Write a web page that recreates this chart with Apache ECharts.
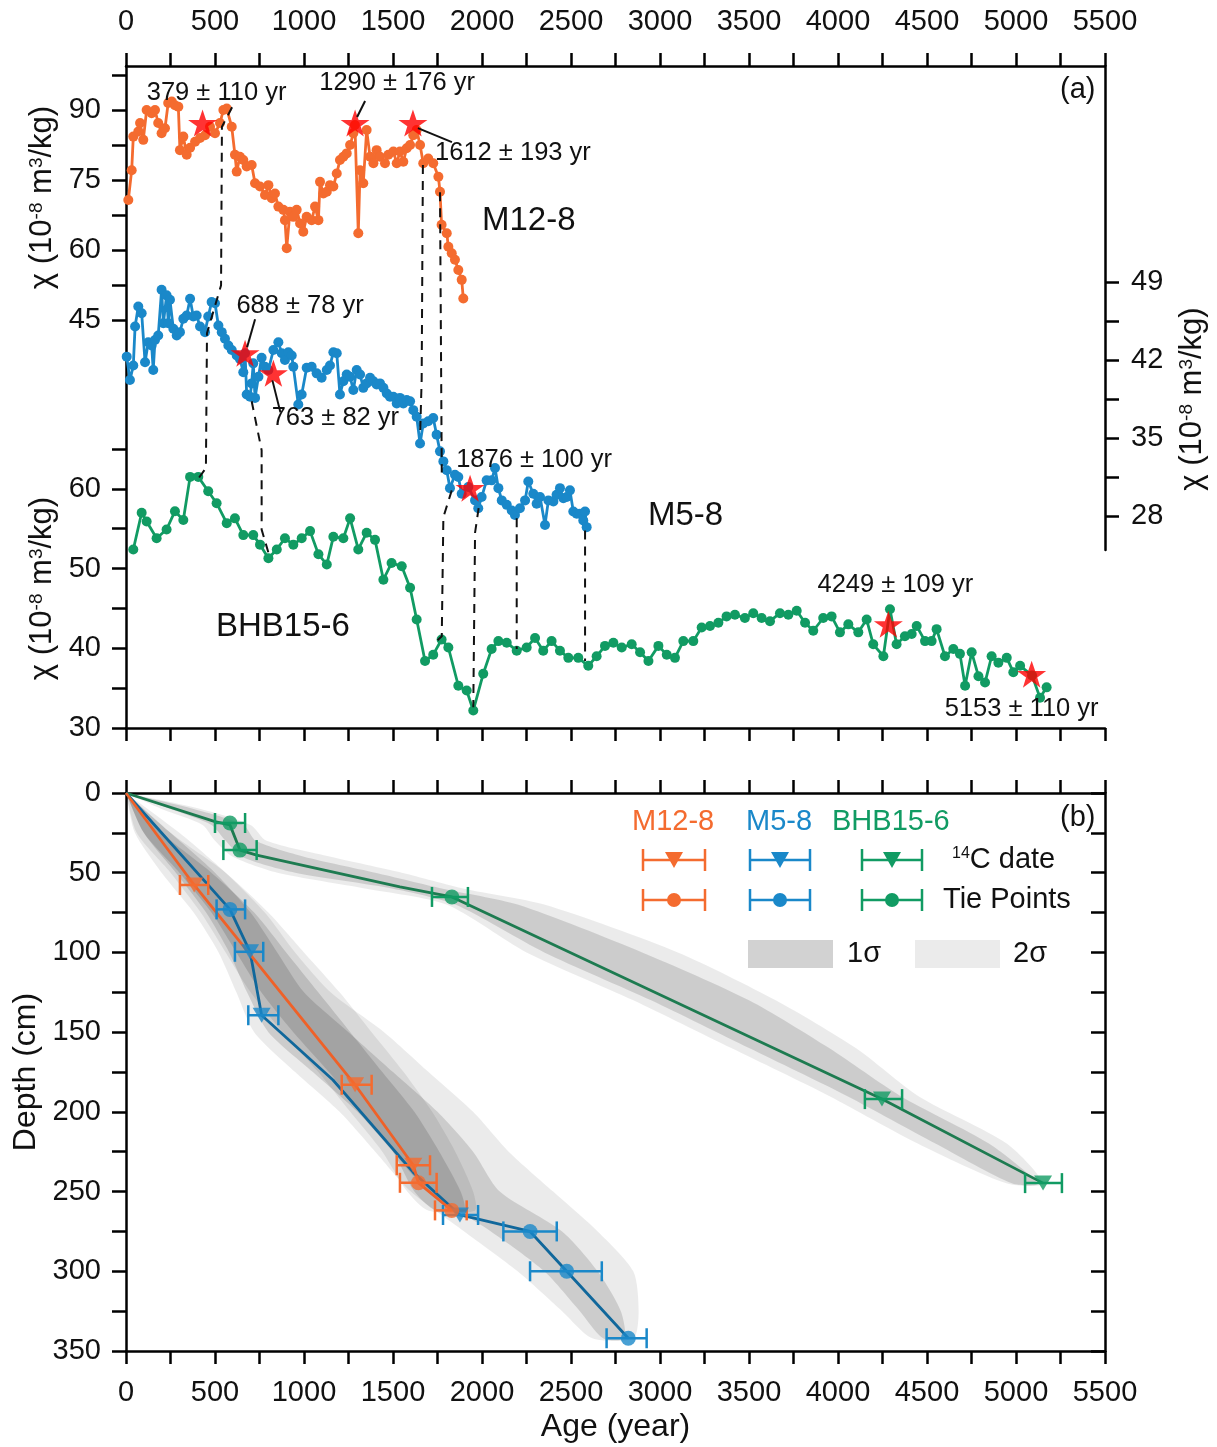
<!DOCTYPE html>
<html>
<head>
<meta charset="utf-8">
<script src="https://cdn.jsdelivr.net/npm/echarts@6/dist/echarts.min.js"></script>
<style>
  html, body { margin: 0; padding: 0; background: #fff; }
  #chart { width: 1217px; height: 1447px; }
</style>
</head>
<body>
<div id="chart"></div>
<script>
// ---- data: top panel, magnetic susceptibility vs age ----
const m128Chi = [[13,70.7],[32,77.1],[41,84.3],[69,85.4],[79,87.2],[97,83.6],[116,90],[144,89.3],[163,90],[181,87.2],[200,85],[219,86.1],[237,91.5],[257,91.8],[275,91],[294,90.7],[303,81.4],[322,84.3],[341,80.4],[360,81.9],[388,83.2],[416,84],[444,84.6],[472,86.4],[500,85],[528,87.2],[547,90],[566,90.3],[594,86.4],[612,80.4],[622,76.8],[640,80],[659,79.3],[678,77.9],[706,78.2],[725,74.3],[753,73.6],[781,71.8],[800,73.9],[819,71.1],[837,72.1],[856,69.3],[884,68.6],[893,66.4],[903,60.4],[921,68.2],[940,67.1],[959,68.6],[978,65.7],[996,63.9],[1015,67.1],[1043,66.4],[1062,69.3],[1081,66.4],[1090,74.6],[1109,72.1],[1128,72.5],[1146,73.9],[1165,73.6],[1184,76.4],[1202,79.3],[1221,80],[1240,80.7],[1259,82.5],[1277,85],[1286,86.8],[1305,63.6],[1315,77.1],[1333,74.3],[1352,85.7],[1371,80],[1390,78.6],[1408,81.4],[1427,80],[1455,78.6],[1474,80.4],[1502,81.1],[1521,78.6],[1539,81.1],[1558,78.9],[1577,81.8],[1596,82.5],[1614,84.6],[1633,85.7],[1652,82.5],[1670,78.6],[1698,79.6],[1726,78.6],[1755,75.7],[1764,72.5],[1773,65.4],[1802,63.6],[1811,60.7],[1830,59.3],[1848,57.9],[1867,55.7],[1886,53.6],[1895,49.6]];

const m58Chi = [[4,42.3],[22,40.2],[41,41.5],[51,45],[69,46.8],[88,46.2],[107,41.8],[125,43.6],[144,43.3],[153,41.1],[163,43.8],[181,44.2],[200,48.3],[210,45.3],[228,47.8],[238,45.3],[247,47.4],[266,44.8],[285,44.2],[303,44.5],[322,45.7],[341,46],[360,47.5],[378,45.9],[397,46],[416,45],[444,44.5],[462,45.9],[481,47.2],[500,47.1],[519,45.1],[538,44.5],[556,43.9],[575,43.3],[594,42.9],[622,42.4],[640,42.1],[659,40.9],[669,42.6],[678,38.9],[697,38.7],[706,39.9],[715,41.7],[725,38.6],[744,40.5],[762,42.2],[781,41.4],[800,41.1],[828,42.9],[856,43.6],[875,42.6],[893,42],[912,42.7],[931,42.4],[940,41.4],[968,38],[987,38.9],[1015,41.3],[1043,41.4],[1071,40.8],[1099,40.4],[1128,41.1],[1146,41.5],[1165,42.7],[1184,42.6],[1202,38.9],[1221,40.1],[1240,40.7],[1259,40.5],[1277,39.3],[1296,41.1],[1315,40.7],[1333,39.5],[1352,39.9],[1371,40.4],[1390,40.1],[1408,39.8],[1427,39.9],[1446,39.5],[1465,39],[1483,38.7],[1502,38.7],[1521,38.1],[1539,38.6],[1558,38.1],[1577,38.4],[1596,38.3],[1614,37.5],[1633,36.9],[1652,34.5],[1670,36.3],[1698,36.5],[1726,36.8],[1745,35.3],[1764,33.8],[1783,32.9],[1802,32.1],[1820,30.5],[1848,31.7],[1867,31.5],[1886,30],[1923,30.6],[1961,29.4],[1979,28.7],[1998,29.7],[2026,31.2],[2054,31.2],[2073,32.3],[2092,30.5],[2111,29.4],[2139,29],[2167,28.5],[2185,28.1],[2213,28.7],[2242,29.4],[2260,31.1],[2288,30],[2307,29.1],[2326,29.7],[2354,27.2],[2373,29.4],[2401,29.3],[2419,29.9],[2438,30.5],[2457,29.6],[2476,29.7],[2494,30.3],[2513,28.4],[2532,28.2],[2550,28.2],[2569,27.6],[2579,28.4],[2588,27]];

const bhbChi = [[41,52.4],[88,57],[116,55.9],[172,53.8],[228,54.9],[275,57.2],[322,56.1],[360,61.5],[406,61.5],[462,59.7],[509,58.2],[566,55.7],[612,56.3],[659,54.2],[715,54.2],[753,53],[800,51.3],[847,52.4],[893,53.8],[940,53],[987,53.8],[1034,54.7],[1081,51.8],[1128,50.5],[1165,54],[1221,53.8],[1259,56.3],[1305,52.4],[1352,54.5],[1399,53.6],[1446,48.6],[1492,50.7],[1549,50.3],[1596,47.6],[1633,43.6],[1680,38.4],[1726,39.2],[1773,41.1],[1811,40.1],[1867,35.3],[1914,34.7],[1951,32.2],[2007,36.8],[2054,39.9],[2092,40.9],[2139,40.7],[2195,39.7],[2251,40.1],[2298,41.3],[2344,39.7],[2391,40.9],[2438,39.7],[2485,38.8],[2541,38.8],[2597,37.8],[2644,39],[2691,40.3],[2738,40.7],[2785,40.1],[2841,40.5],[2888,39.5],[2935,38.4],[2991,40.3],[3038,39.2],[3084,38.8],[3131,40.9],[3187,40.9],[3234,42.6],[3281,42.8],[3328,43.2],[3374,44],[3421,44.2],[3477,43.8],[3524,44.4],[3571,43.8],[3618,43.4],[3674,44.4],[3721,44.2],[3768,44.7],[3815,43.2],[3861,42.2],[3917,43.8],[3964,44],[4011,42],[4058,43],[4114,42],[4161,43.6],[4198,40.5],[4255,39],[4292,44.9],[4329,40.5],[4376,41.5],[4414,41.8],[4442,42.8],[4489,40.9],[4526,40.9],[4554,42.4],[4601,39],[4648,39.9],[4685,39.3],[4714,35.3],[4751,39.5],[4789,36.5],[4826,35.7],[4863,39],[4901,38.2],[4948,38.8],[4985,37],[5023,37.8],[5090,36.6],[5135,33.8],[5172,35.1]];

// dated horizons (stars) and their labels
const m128Stars = [[430,87.2],[1287,87.2],[1612,87.2]];
const m128StarText = ['379 ± 110 yr', '1290 ± 176 yr', '1612 ± 193 yr'];
const m58Stars = [[669,42.6],[828,40.8],[1933,30.5]];
const m58StarText = ['688 ± 78 yr', '763 ± 82 yr', '1876 ± 100 yr'];
const bhbStars = [[4283,43],[5088,36.75]];
const bhbStarText = ['4249 ± 109 yr', '5153 ± 110 yr'];

// tie lines between records: vertices as [record, age, chi]
const tieLines = [
  [['o',596,90.6],['o',539,86.4],['b',534,48.7],['b',455,44.4],['g',449,62.6],['g',410,61.4]],
  [['b',706,38.3],['b',762,33.9],['g',762,54.9],['g',800,52]],
  [['o',1668,78.2],['b',1661,40.2],['b',1652,35.1]],
  [['o',1764,72.4],['b',1774,31.9]],
  [['b',1830,30.3],['b',1783,27.9],['g',1774,41.5],['g',1726,40.5]],
  [['b',1981,28.7],['b',1961,26.5],['g',1951,32.6]],
  [['b',2195,27.8],['g',2195,39.9]],
  [['b',2579,26.7],['g',2579,38.4]]
];

// ---- data: bottom panel, age-depth models ----
// [age, depth]
const m128Model = [[0,0],[383,57.7],[1287,183],[1614,233.5],[1643,244.5],[1830,261.8]];
const m58Model = [[0,0],[584,73],[697,99.6],[762,139.4],[1163,180],[1614,238],[1876,264.7],[1949,266.5],[2270,275],[2476,300],[2822,342]];
const bhbModel = [[0,0],[500,18],[584,20],[640,35.8],[734,39],[1539,58.9],[1831,65.2],[4247,192],[5152,244.7]];
// [age, depth, ageMin, ageMax]
const m128Dates = [[383,57.7,303,462],[1287,183,1212,1380],[1614,233.5,1521,1708]];
const m128Ties = [[1643,244.5,1539,1745],[1830,261.8,1736,1914]];
const m58Dates = [[697,99.6,612,771],[762,139.4,687,856],[1876,264.7,1781,1978]];
const m58Ties = [[584,73,509,669],[2270,275,2120,2420],[2476,300,2270,2673],[2822,342,2700,2925]];
const bhbDates = [[4247,192,4151,4360],[5152,244.7,5051,5258]];
const bhbTies = [[584,18.8,500,669],[640,35.8,547,734],[1831,65.2,1719,1921]];
// uncertainty envelopes: [depth, ageMin, ageMax]
const m128Sig2 = [[0,0,0],[25,60,250],[50,250,560],[75,420,800],[100,560,1000],[125,700,1200],[150,880,1380],[175,1080,1560],[200,1260,1720],[225,1440,1850],[250,1580,1950],[262,1700,1960]];
const m128Sig1 = [[0,0,0],[25,100,200],[50,300,480],[75,480,720],[100,620,900],[125,760,1080],[150,940,1260],[175,1140,1440],[200,1320,1620],[225,1500,1760],[250,1620,1880],[262,1740,1900]];
const m58Sig2 = [[0,0,0],[25,50,300],[50,200,560],[75,380,780],[100,520,950],[125,620,1150],[150,720,1450],[175,950,1700],[200,1200,1950],[225,1400,2150],[250,1600,2400],[275,1900,2650],[300,2200,2850],[325,2450,2880],[342,2620,2850]];
const m58Sig1 = [[0,0,0],[25,100,250],[50,280,500],[75,450,700],[100,580,850],[125,680,1000],[150,800,1250],[175,1050,1500],[200,1300,1750],[225,1500,1950],[250,1700,2100],[275,2050,2450],[300,2350,2650],[325,2550,2780],[342,2680,2800]];
const bhbSig2 = [[0,0,0],[10,200,420],[20,430,700],[30,500,790],[40,600,1150],[50,850,1550],[60,1350,1900],[70,1800,2350],[100,2250,3100],[130,2850,3650],[160,3400,4100],[190,3950,4450],[220,4450,4950],[245,4950,5150]];
const bhbSig1 = [[0,0,0],[10,250,380],[20,480,660],[30,560,730],[40,650,1000],[50,950,1400],[60,1500,1780],[70,1850,2200],[100,2350,2900],[130,2950,3500],[160,3500,3950],[190,4050,4350],[220,4550,4850],[245,4980,5120]];

// ---- style ----
const FONT = "'Liberation Sans', Arial, sans-serif";
const C_O = '#F46B2F', C_B = '#1A88C9', C_G = '#119B63';
const L_O = '#EF6128', L_B = '#10679B', L_G = '#1D7B50';
const STAR = 'path://M50,0 L61.8,35.1 L98.6,35.1 L68.8,56.8 L79.4,91.9 L50,70.2 L20.6,91.9 L31.2,56.8 L1.4,35.1 L38.2,35.1 Z';
const AX = { lineStyle: { color: '#000', width: 2.5 } };
const TICK = { show: true, inside: false, length: 14, lineStyle: { color: '#000', width: 2.5 } };
const LBL = { color: '#111', fontSize: 29, fontFamily: FONT };
const G = { left: 126, right: 112, outerBoundsMode: 'none', containLabel: false };
const chiName = '{a|χ (10}{s|-8}{a| m}{s|3}{a|/kg)}';
const chiRich = { a: { fontSize: 31, fontFamily: FONT, color: '#111' }, s: { fontSize: 19, fontFamily: FONT, color: '#111', verticalAlign: 'top' } };

function every(step) { return function (v) { return Math.abs(v % step) < 1e-6 ? String(v) : ''; }; }
function hiddenX(grid) { return { gridIndex: grid, type: 'value', min: 0, max: 5500, show: false }; }

function ageAxis(grid, pos, labels, name) {
  return {
    gridIndex: grid, type: 'value', position: pos, min: 0, max: 5500, interval: 250,
    axisLine: { show: true, onZero: false, ...AX },
    axisTick: { ...TICK, length: 13 },
    axisLabel: labels ? { ...LBL, margin: pos === 'top' ? 30 : 27, formatter: every(500), showMinLabel: true, showMaxLabel: true, interval: 0 } : { show: false },
    splitLine: { show: false },
    name: name || '', nameLocation: 'middle', nameGap: 60,
    nameTextStyle: { fontSize: 32, fontFamily: FONT, color: '#111' }
  };
}
function chiAxis(grid, pos, min, max, step, labelStep) {
  return {
    gridIndex: grid, type: 'value', min: min, max: max, interval: step, position: pos,
    axisLine: { show: false, onZero: false }, axisTick: TICK, splitLine: { show: false },
    axisLabel: { ...LBL, margin: pos === 'left' ? 25 : 26, formatter: every(labelStep), showMinLabel: true, showMaxLabel: true },
    name: chiName, nameLocation: 'middle', nameRotate: 90, nameGap: pos === 'left' ? 64 : 72,
    nameTextStyle: { rich: chiRich }
  };
}
function frameY(grid, pos) {
  return { gridIndex: grid, type: 'value', min: 0, max: 1, position: pos,
    axisLine: { show: true, onZero: false, ...AX }, axisTick: { show: false }, axisLabel: { show: false }, splitLine: { show: false } };
}

function chiSeries(xi, yi, data, color) {
  return {
    type: 'line', xAxisIndex: xi, yAxisIndex: yi, data: data, clip: false,
    symbol: 'circle', symbolSize: 10, showAllSymbol: true,
    lineStyle: { color: color, width: 2.8 }, itemStyle: { color: color }, z: 3
  };
}
function starSeries(xi, yi, data) {
  return { type: 'scatter', xAxisIndex: xi, yAxisIndex: yi, data: data, clip: false,
    symbol: STAR, symbolSize: [29, 27], itemStyle: { color: '#FF0000' }, z: 6 };
}
function bandSeries(rows, fill, z) {
  return {
    type: 'custom', xAxisIndex: 6, yAxisIndex: 5, data: rows, z: z, silent: true, clip: false,
    encode: { x: [1, 2], y: 0 },
    renderItem: function (params, api) {
      if (params.dataIndex !== 0) return null;
      const a = rows.map(r => api.coord([r[1], r[0]]));
      const b = rows.map(r => api.coord([r[2], r[0]])).reverse();
      return { type: 'polygon', shape: { points: a.concat(b), smooth: 0.25 }, style: { fill: fill } };
    }
  };
}
function modelSeries(data, color) {
  return { type: 'line', xAxisIndex: 6, yAxisIndex: 5, data: data, symbol: 'none', clip: false,
    lineStyle: { color: color, width: 2.8 }, z: 3 };
}
function errSeries(data, color) {
  return {
    type: 'custom', xAxisIndex: 6, yAxisIndex: 5, data: data, z: 4, clip: false,
    encode: { x: 0, y: 1 },
    renderItem: function (params, api) {
      const d = api.value(1);
      const p1 = api.coord([api.value(2), d]);
      const p2 = api.coord([api.value(3), d]);
      const h = 10, st = { stroke: color, lineWidth: 2.5 };
      return { type: 'group', children: [
        { type: 'line', shape: { x1: p1[0], y1: p1[1], x2: p2[0], y2: p2[1] }, style: st },
        { type: 'line', shape: { x1: p1[0], y1: p1[1] - h, x2: p1[0], y2: p1[1] + h }, style: st },
        { type: 'line', shape: { x1: p2[0], y1: p2[1] - h, x2: p2[0], y2: p2[1] + h }, style: st }
      ] };
    }
  };
}
function markSeries(data, color, tri) {
  return { type: 'scatter', xAxisIndex: 6, yAxisIndex: 5, data: data.map(r => [r[0], r[1]]), z: 5, clip: false,
    symbol: tri ? 'triangle' : 'circle', symbolRotate: tri ? 180 : 0, symbolSize: tri ? [18, 15] : 15,
    itemStyle: { color: color } };
}

const chart = echarts.init(document.getElementById('chart'), null, { renderer: 'canvas' });

const option = {
  animation: false,
  backgroundColor: '#fff',
  grid: [
    { ...G, top: 66, height: 662 },   // 0 top frame
    { ...G, top: 75, height: 245 },   // 1 M12-8
    { ...G, top: 282, height: 234 },  // 2 M5-8
    { ...G, top: 449, height: 279 },  // 3 BHB15-6
    { ...G, top: 66, height: 484 },   // 4 right frame
    { ...G, top: 793, height: 558 }   // 5 age-depth
  ],
  xAxis: [
    ageAxis(0, 'top', true),
    ageAxis(0, 'bottom', false),
    hiddenX(1), hiddenX(2), hiddenX(3), hiddenX(4),
    ageAxis(5, 'bottom', true, 'Age (year)'),
    ageAxis(5, 'top', false)
  ],
  yAxis: [
    frameY(0, 'left'),
    chiAxis(1, 'left', 45, 97.5, 7.5, 15),
    chiAxis(2, 'right', 28, 49, 3.5, 7),
    chiAxis(3, 'left', 30, 65, 5, 10),
    frameY(4, 'right'),
    { gridIndex: 5, type: 'value', min: 0, max: 350, interval: 25, inverse: true, position: 'left',
      axisLine: { show: true, onZero: false, ...AX }, axisTick: TICK, splitLine: { show: false },
      axisLabel: { ...LBL, margin: 25, formatter: every(50), showMinLabel: true, showMaxLabel: true },
      name: 'Depth (cm)', nameLocation: 'middle', nameRotate: 90, nameGap: 82,
      nameTextStyle: { fontSize: 32, fontFamily: FONT, color: '#111' } },
    { gridIndex: 5, type: 'value', min: 0, max: 350, interval: 25, inverse: true, position: 'right',
      axisLine: { show: true, onZero: false, ...AX }, axisTick: { ...TICK, inside: true }, axisLabel: { show: false }, splitLine: { show: false } }
  ],
  series: [
    chiSeries(2, 1, m128Chi, C_O),
    chiSeries(3, 2, m58Chi, C_B),
    chiSeries(4, 3, bhbChi, C_G),
    starSeries(2, 1, m128Stars),
    starSeries(3, 2, m58Stars),
    starSeries(4, 3, bhbStars),
    bandSeries(bhbSig2, 'rgba(0,0,0,0.08)', 1),
    bandSeries(m58Sig2, 'rgba(0,0,0,0.08)', 1),
    bandSeries(m128Sig2, 'rgba(0,0,0,0.08)', 1),
    bandSeries(bhbSig1, 'rgba(0,0,0,0.13)', 2),
    bandSeries(m58Sig1, 'rgba(0,0,0,0.13)', 2),
    bandSeries(m128Sig1, 'rgba(0,0,0,0.13)', 2),
    modelSeries(bhbModel, L_G),
    modelSeries(m58Model, L_B),
    modelSeries(m128Model, L_O),
    errSeries(bhbDates.concat(bhbTies), C_G),
    errSeries(m58Dates.concat(m58Ties), C_B),
    errSeries(m128Dates.concat(m128Ties), C_O),
    markSeries(bhbDates, C_G, true), markSeries(bhbTies, C_G, false),
    markSeries(m58Dates, C_B, true), markSeries(m58Ties, C_B, false),
    markSeries(m128Dates, C_O, true), markSeries(m128Ties, C_O, false)
  ]
};
chart.setOption(option);

// ---- overlay: tie lines, date labels, legend ----
const gridOf = { o: 1, b: 2, g: 3 };
function px(key, age, v) { return chart.convertToPixel({ gridIndex: gridOf[key] }, [age, v]); }

const els = [];
tieLines.forEach(function (line) {
  els.push({ type: 'polyline', z: 10, silent: true,
    shape: { points: line.map(p => px(p[0], p[1], p[2])) },
    style: { stroke: '#111', lineWidth: 2, lineDash: [9, 7], fill: null } });
});

// label offsets (px) from each star and optional leader segments
const starLayout = [
  { k: 'o', i: 0, dx: 14, dy: -30 },
  { k: 'o', i: 1, dx: 42, dy: -40, lead: [10, -22, 2, -6] },
  { k: 'o', i: 2, dx: 100, dy: 30, lead: [5, 5, 39, 19] },
  { k: 'b', i: 0, dx: 55, dy: -47, lead: [10, -34, 2, -6] },
  { k: 'b', i: 1, dx: 62, dy: 45, lead: [-1, 7, 7, 39] },
  { k: 'b', i: 2, dx: 64, dy: -28 },
  { k: 'g', i: 0, dx: 7, dy: -39 },
  { k: 'g', i: 1, dx: -10, dy: 35 }
];
const starSets = { o: [m128Stars, m128StarText], b: [m58Stars, m58StarText], g: [bhbStars, bhbStarText] };
starLayout.forEach(function (s) {
  const st = starSets[s.k][0][s.i];
  const p = px(s.k, st[0], st[1]);
  els.push({ type: 'text', z: 11, style: { text: starSets[s.k][1][s.i], x: p[0] + s.dx, y: p[1] + s.dy,
    fontSize: 25.5, fontFamily: FONT, fill: '#111', align: 'center', verticalAlign: 'middle' } });
  if (s.lead) {
    els.push({ type: 'line', z: 11, shape: { x1: p[0] + s.lead[0], y1: p[1] + s.lead[1], x2: p[0] + s.lead[2], y2: p[1] + s.lead[3] },
      style: { stroke: '#111', lineWidth: 2 } });
  }
});

function txt(t, x, y, size, color, align) {
  els.push({ type: 'text', z: 11, style: { text: t, x: x, y: y, fontSize: size, fontFamily: FONT, fill: color || '#111',
    align: align || 'left', verticalAlign: 'middle' } });
}
txt('M12-8', 482, 221, 33);
txt('M5-8', 648, 516, 33);
txt('BHB15-6', 216, 627, 33);
txt('(a)', 1060, 90, 29);
txt('(b)', 1060, 818, 29);

// legend of panel b
const legCols = [[C_O, 643, 705, 'M12-8', 632], [C_B, 750, 810, 'M5-8', 746], [C_G, 862, 922, 'BHB15-6', 832]];
legCols.forEach(function (c) {
  txt(c[3], c[4], 822, 29, c[0]);
  [860, 900].forEach(function (y, row) {
    const st = { stroke: c[0], lineWidth: 2.5 };
    els.push({ type: 'line', z: 11, shape: { x1: c[1], y1: y, x2: c[2], y2: y }, style: st });
    els.push({ type: 'line', z: 11, shape: { x1: c[1], y1: y - 11, x2: c[1], y2: y + 11 }, style: st });
    els.push({ type: 'line', z: 11, shape: { x1: c[2], y1: y - 11, x2: c[2], y2: y + 11 }, style: st });
    const mx = (c[1] + c[2]) / 2;
    if (row === 0) {
      els.push({ type: 'polygon', z: 12, shape: { points: [[mx - 9, y - 8], [mx + 9, y - 8], [mx, y + 8]] }, style: { fill: c[0] } });
    } else {
      els.push({ type: 'circle', z: 12, shape: { cx: mx, cy: y, r: 7 }, style: { fill: c[0] } });
    }
  });
});
els.push({ type: 'text', z: 11, style: { text: '{s|14}{n|C date}', x: 952, y: 860, verticalAlign: 'middle',
  rich: { s: { fontSize: 16, fontFamily: FONT, fill: '#111', verticalAlign: 'top' }, n: { fontSize: 29, fontFamily: FONT, fill: '#111' } } } });
txt('Tie Points', 943, 900, 29);
els.push({ type: 'rect', z: 11, shape: { x: 748, y: 940, width: 85, height: 28 }, style: { fill: '#d2d2d2' } });
txt('1σ', 847, 954, 29);
els.push({ type: 'rect', z: 11, shape: { x: 915, y: 940, width: 85, height: 28 }, style: { fill: '#ebebeb' } });
txt('2σ', 1013, 954, 29);

chart.setOption({ graphic: { elements: els } });
</script>
</body>
</html>
